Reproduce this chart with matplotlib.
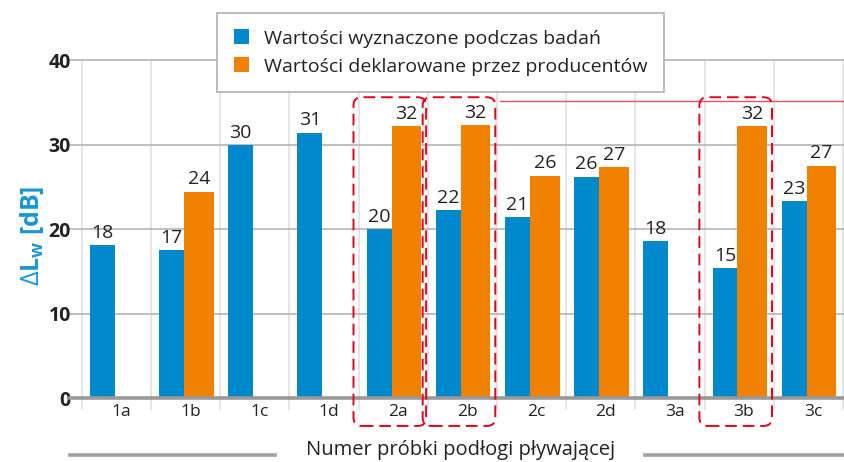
import numpy as np
import matplotlib.pyplot as plt
from matplotlib.patches import Patch, FancyBboxPatch
from matplotlib.lines import Line2D

plt.rcParams['font.family'] = ['Open Sans', 'DejaVu Sans']
plt.rcParams['mathtext.fontset'] = 'custom'
plt.rcParams['mathtext.rm'] = 'Open Sans'
plt.rcParams['mathtext.bf'] = 'Open Sans:bold'

samples = ['1a', '1b', '1c', '1d', '2a', '2b', '2c', '2d', '3a', '3b', '3c']
# measured values (blue)
measured = [18.1, 17.5, 29.9, 31.4, 20.0, 22.2, 21.4, 26.2, 18.6, 15.4, 23.3]
measured_labels = ['18', '17', '30', '31', '20', '22', '21', '26', '18', '15', '23']
# declared values (orange), None = not declared
declared = [None, 24.4, None, None, 32.2, 32.3, 26.3, 27.3, None, 32.2, 27.5]
declared_labels = ['', '24', '', '', '32', '32', '26', '27', '', '32', '27']
highlighted = ['2a', '2b', '3b']
red_level = 35.2

BLUE = '#0088cc'
ORANGE = '#f08000'
RED = '#e2001a'
TXT = '#222222'

fig = plt.figure(figsize=(8.45, 4.62), dpi=100)
ax = fig.add_axes([0.097, 0.111, 0.903, 0.759])
ax.set_xlim(0, 11.03)
ax.set_ylim(-1.5, 40)
for s in ax.spines.values():
    s.set_visible(False)

x = np.arange(len(samples))

# grid
for k in range(len(samples) + 1):
    ax.plot([k, k], [-1.3, 40], color='#e0e0e0', lw=1.2, zorder=0, clip_on=False)
for yv in [10, 20, 30, 40]:
    ax.plot([-0.17, 11.03], [yv, yv], color='#b4b4b4', lw=1.2, zorder=0.5, clip_on=False)

# bars
ax.bar(x + 0.115, measured, width=0.36, align='edge', color=BLUE, zorder=2)
dec_x = [xi for xi, d in zip(x, declared) if d is not None]
dec_v = [d for d in declared if d is not None]
ax.bar(np.array(dec_x) + 0.475, dec_v, width=0.43, align='edge', color=ORANGE, zorder=2)

ax.plot([-0.17, 11.03], [0, 0], color='#999999', lw=2.6, zorder=3, clip_on=False)

# value labels
for xi, v, lab in zip(x, measured, measured_labels):
    ax.text(xi + 0.115 + 0.18, v + 0.4, lab, ha='center', va='bottom',
            fontsize=14, color=TXT, zorder=4)
for xi, v, lab in zip(x, declared, declared_labels):
    if v is not None:
        ax.text(xi + 0.475 + 0.215, v + 0.4, lab, ha='center', va='bottom',
                fontsize=14, color=TXT, zorder=4)

# x category labels
for xi, lab in zip(x, samples):
    ax.text(xi + 0.57, -1.65, lab, ha='center', va='center', fontsize=12.5, color=TXT)

# highlight boxes
for name in highlighted:
    i = samples.index(name)
    box = FancyBboxPatch((i - 0.075, -3.3), 1.05, 38.9,
                         boxstyle='round,pad=0,rounding_size=0.12',
                         mutation_aspect=8.2, fill=False, edgecolor=RED,
                         lw=1.4, linestyle=(0, (6, 3)), zorder=5, clip_on=False)
    ax.add_patch(box)
ax.plot([6.04, 11.03], [red_level, red_level], color='#e8506a', lw=1.0, zorder=1, clip_on=False)

# y axis
ax.set_xticks([])
ax.set_yticks([0, 10, 20, 30, 40])
ax.set_yticklabels(['0', '10', '20', '30', '40'], fontsize=14, fontweight='bold', color=TXT)
ax.tick_params(axis='y', length=0, pad=8)
ax.set_ylabel(r'$\Delta\mathbf{L_w}$ [dB]', fontsize=18, fontweight='bold',
              color='#1a96d4', labelpad=2)

# legend
handles = [Patch(facecolor=BLUE, label='Wartości wyznaczone podczas badań'),
           Patch(facecolor=ORANGE, label='Wartości deklarowane przez producentów')]
leg = fig.legend(handles=handles, loc='upper left', bbox_to_anchor=(0.257, 0.972),
                 fontsize=14, frameon=True, fancybox=False, edgecolor='#b0b0b0',
                 framealpha=1, handlelength=0.8, handleheight=0.8, handletextpad=0.75,
                 borderpad=0.85, labelspacing=0.5, borderaxespad=0)
leg.get_frame().set_linewidth(1.2)
for t in leg.get_texts():
    t.set_color(TXT)

# x axis title with side lines
fig.text(0.545, 0.027, 'Numer próbki podłogi pływającej', ha='center', va='center',
         fontsize=14.5, color=TXT)
fig.add_artist(Line2D([70 / 845, 275 / 845], [7 / 462, 7 / 462], color='#a0a0a0', lw=2.6))
fig.add_artist(Line2D([645 / 845, 845 / 845], [7 / 462, 7 / 462], color='#a0a0a0', lw=2.6))

fig.savefig('out.png', dpi=100)
